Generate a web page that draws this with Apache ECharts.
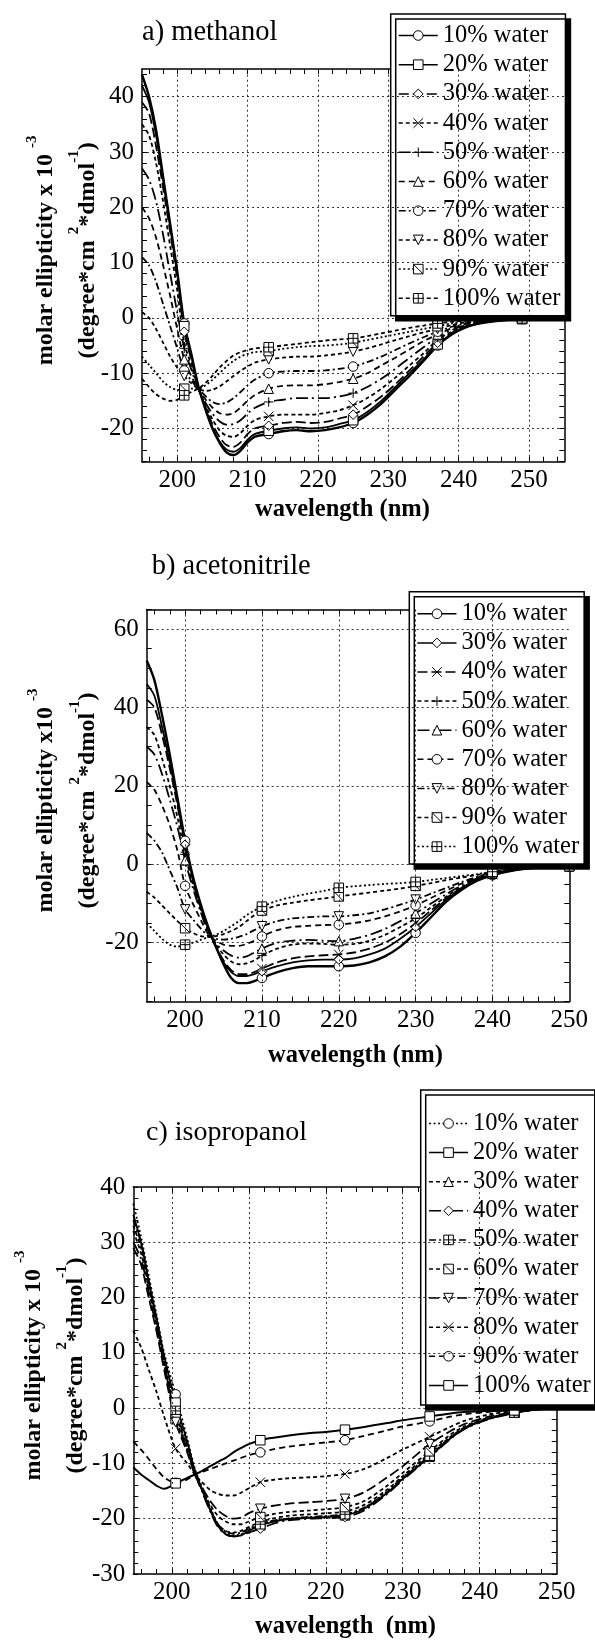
<!DOCTYPE html>
<html><head><meta charset="utf-8">
<script src="https://cdn.jsdelivr.net/npm/echarts@6/dist/echarts.min.js"></script>
<style>html,body{margin:0;padding:0;background:#fff}#c{width:595px;height:1640px}</style>
</head><body><div id="c"></div>
<script>
// ---------------- DATA ----------------
// Panel a) methanol
const A_NM = [195,196,197,198,199,200,201,202,203,204,205,206,207,208,209,210,211,213,215,217,219,221,223,225,227,229,231,233,235,237,239,241,243,245,249,255];
const A_W10 = [44,40,34,25.5,17,8.5,-1,-6.5,-12.3,-16.5,-20,-22.5,-24.3,-24.8,-24,-22.5,-21.5,-21,-20.5,-20.3,-20.5,-20.3,-19.8,-19,-17.5,-15.5,-13,-10.5,-7.8,-5,-3,-1.7,-1,-0.6,-0.2,0];
const A_W20 = [42,39,33,25,16.5,8,-1.5,-6.8,-12.4,-16.3,-19.8,-22.3,-23.8,-24.2,-23.5,-22,-21,-20.4,-20,-19.8,-20,-19.8,-19.2,-18.5,-17,-15,-12.5,-10,-7.5,-4.8,-2.9,-1.6,-1,-0.6,-0.2,0];
const A_W30 = [39,37,31,23.5,15.5,7,-2.5,-7.5,-12.6,-16,-19.2,-21.5,-23,-23.3,-22.5,-21,-20,-19.5,-19,-18.8,-19,-18.8,-18.2,-17.5,-16,-14.2,-12,-9.5,-7,-4.5,-2.7,-1.5,-0.9,-0.5,-0.2,0];
const A_W40 = [35,33,28,21,13,5,-4.5,-8.5,-12.7,-15.8,-18.3,-20.3,-21.3,-21.5,-20.8,-19.5,-18.5,-17.8,-17.5,-17.5,-17.5,-17.2,-16.7,-15.8,-14.5,-12.8,-10.8,-8.6,-6.4,-4,-2.5,-1.4,-0.8,-0.5,-0.2,0];
const A_W50 = [27,25,21,15,8,1,-5.5,-9.3,-12.8,-15.3,-17.3,-18.7,-19.3,-19.2,-18.5,-17.3,-16.3,-15.2,-14.8,-14.5,-14.5,-14.5,-14.2,-13.6,-12.5,-11,-9.2,-7.2,-5.3,-3.5,-2.2,-1.3,-0.8,-0.4,-0.2,0];
const A_W60 = [20,18,14.5,9.5,4,-2,-7.5,-10.5,-12.8,-14.7,-16.2,-17.2,-17.5,-17.2,-16.2,-15,-14,-12.8,-12.3,-12.2,-12.2,-12,-11.6,-11,-10,-8.6,-7.2,-5.7,-4.2,-3,-1.9,-1.1,-0.7,-0.4,-0.2,0];
const A_W70 = [11,9.5,6.5,2.5,-1.5,-5.5,-9.5,-11.3,-12.8,-14.1,-15.2,-15.6,-15.3,-14.5,-13.4,-12.2,-11.2,-10,-9.7,-9.6,-9.6,-9.5,-9.2,-8.8,-8,-7,-5.8,-4.6,-3.5,-2.5,-1.6,-1,-0.6,-0.3,-0.1,0];
const A_W80 = [1,0,-2,-4.5,-7,-9,-10.5,-11.8,-12.8,-13.2,-13,-12.4,-11.5,-10.5,-9.6,-8.8,-8.1,-7.5,-7.2,-7,-7,-6.8,-6.5,-6.1,-5.5,-4.8,-4,-3.3,-2.6,-2,-1.3,-0.8,-0.5,-0.3,-0.1,0];
const A_W90 = [-7,-8.5,-10,-11.5,-12.5,-13,-12.8,-12.8,-12.8,-12.2,-11.2,-10,-8.8,-7.8,-7,-6.5,-6.2,-6,-5.6,-5.3,-5.1,-5,-4.8,-4.5,-4,-3.5,-3,-2.5,-2,-1.5,-1,-0.7,-0.4,-0.3,-0.1,0];
const A_W100 = [-11,-12.5,-13.8,-14.6,-15,-14.8,-14,-13.4,-12.8,-11.8,-10.5,-9,-7.8,-6.8,-6.2,-5.8,-5.5,-5.3,-5,-4.7,-4.4,-4.1,-3.9,-3.7,-3.3,-2.8,-2.3,-1.8,-1.4,-1,-0.7,-0.5,-0.3,-0.2,-0.1,0];
const A_LABELS = ['10% water','20% water','30% water','40% water','50% water','60% water','70% water','80% water','90% water','100% water'];
const A_MARKS = [201,213,225,237,249];
const A_XTICKS = [200,210,220,230,240,250];
const A_YTICKS = [-20,-10,0,10,20,30,40];

// Panel b) acetonitrile
const B_NM = [195,196,197,198,199,200,201,202,203,204,205,206,207,208,209,210,212,214,216,218,220,222,224,226,228,230,232,234,236,238,240,243,246,250];
const B_W10 = [52,47,38,28,17,6,-3,-10,-16,-21,-25.5,-29,-30.3,-30.3,-29.8,-29,-27.5,-26.5,-26,-26,-26,-25.8,-25,-23.5,-21,-17.5,-13.5,-9.5,-6.5,-4.2,-2.8,-1.5,-0.8,-0.5];
const B_W30 = [46,43,35,26,16,5,-3.5,-10.5,-16.5,-21,-25,-27.5,-28.5,-28.5,-28,-27.3,-26,-25,-24.5,-24.3,-24.3,-24,-23,-21.5,-19,-16,-12.5,-9,-6.2,-4,-2.7,-1.4,-0.8,-0.5];
const B_W40 = [42,40,33,24.5,15,4,-4,-11,-16.8,-21,-24.5,-27,-28,-28,-27.5,-26.6,-25,-24,-23.5,-23.2,-23,-22.5,-21.5,-20,-17.8,-15,-11.8,-8.6,-6,-3.9,-2.6,-1.4,-0.8,-0.5];
const B_W50 = [35,33,27,20,12,2.5,-5,-11.5,-17,-20.5,-23,-24.8,-25.5,-25.3,-24.5,-23.3,-21.5,-20.5,-20.2,-20.3,-20.5,-20.3,-19.5,-18,-16,-13.8,-11,-8.2,-5.8,-3.8,-2.5,-1.4,-0.8,-0.5];
const B_W60 = [30,28,23,16.5,9.5,1,-6,-12,-17.3,-20.2,-22,-23.3,-23.8,-23.5,-22.5,-21.5,-20,-19.5,-19.3,-19.5,-19.6,-19,-18,-16.5,-14.5,-12.5,-10,-7.6,-5.4,-3.6,-2.4,-1.3,-0.8,-0.5];
const B_W70 = [21,19,15,10,3.5,-5.5,-10,-14,-17.8,-19.5,-20.5,-20.8,-20.8,-20.3,-19.5,-18.4,-16.8,-16,-15.7,-15.5,-15.4,-15,-14.3,-13.3,-12,-10.5,-8.6,-6.7,-4.9,-3.4,-2.3,-1.3,-0.8,-0.5];
const B_W80 = [8,6,3,-1.5,-6,-11.5,-14,-16.3,-18.2,-19,-19.2,-19,-18.5,-17.8,-16.8,-15.8,-14.5,-13.8,-13.5,-13.3,-13.3,-13,-12.5,-11.5,-10.3,-9,-7.5,-6,-4.5,-3.2,-2.2,-1.2,-0.8,-0.5];
const B_W90 = [-7,-8.5,-10.5,-12.5,-14.5,-16.3,-17.5,-18.3,-18.5,-18.3,-17.8,-17,-16,-14.5,-13,-11.8,-10.5,-9.8,-9.2,-8.7,-8.2,-7.7,-7.2,-6.7,-6.2,-5.5,-4.8,-4,-3.4,-2.7,-2,-1.2,-0.8,-0.5];
const B_W100 = [-15,-17,-19,-20.5,-21,-20.5,-20,-19.3,-18.6,-18,-17,-15.8,-14.5,-13,-11.8,-10.8,-9.3,-8.3,-7.5,-6.8,-6,-5.6,-5.3,-5,-4.8,-4.5,-4,-3.5,-3,-2.5,-1.9,-1.2,-0.8,-0.5];
const B_LABELS = ['10% water','30% water','40% water','50% water','60% water','70% water','80% water','90% water','100% water'];
const B_MARKS = [200,210,220,230,240,250];
const B_XTICKS = [200,210,220,230,240,250];
const B_YTICKS = [-20,0,20,40,60];

// Panel c) isopropanol
const C_NM = [195,196,197,198,199,200.5,202,203,204,205,206,207,208,209,210,211.5,213,215,218,220,222.5,225,228,230,233.5,236,238,241,244.5,247,250];
const C_W10 = [37,31,24,17,10,2.5,-5.5,-11,-14.5,-18,-21,-22.5,-23,-22.8,-22,-21,-20.5,-20,-19.7,-19.6,-19.3,-18,-15,-12.5,-8.5,-5.5,-3.6,-2,-0.8,-0.3,0];
const C_W20 = [35,30,23,16.5,9.5,1,-6,-11.3,-15,-18.5,-21.3,-22.8,-23.2,-23,-22.2,-21.2,-20.6,-20.1,-19.8,-19.7,-19.4,-18.2,-15.3,-12.8,-8.8,-5.7,-3.7,-2,-0.8,-0.3,0];
const C_W30 = [33,29,22,15.5,8.5,-1,-7,-11.6,-15,-18.3,-21,-22.2,-22.5,-22.2,-21.5,-20.6,-20,-19.5,-19.2,-19,-18.7,-17.5,-14.7,-12.3,-8.2,-5.4,-3.5,-1.9,-0.8,-0.3,0];
const C_W40 = [30,27,21,14.5,8,-1.5,-7.5,-11.8,-15.3,-18.7,-21.5,-22.8,-23.2,-23,-22.5,-21.8,-21,-20.3,-20,-19.9,-19.7,-18.5,-15.5,-13,-8.9,-5.8,-3.8,-2.1,-0.9,-0.3,0];
const C_W50 = [34,30,23,16,9,-0.5,-6.5,-11.5,-15,-18.3,-21,-22.3,-22.7,-22.5,-21.8,-21,-20.4,-20,-19.7,-19.5,-19.2,-18,-15.2,-12.7,-8.6,-5.6,-3.7,-2,-0.8,-0.3,0];
const C_W60 = [32,28,22,15,8,-2,-7.5,-12,-15,-17.5,-19.5,-20.5,-21,-21,-20.5,-19.7,-19.2,-18.8,-18.5,-18.3,-17.9,-16.8,-14,-11.7,-7.8,-5,-3.3,-1.8,-0.8,-0.3,0];
const C_W70 = [29,26,20,14,7,-2.5,-8,-12,-14.5,-16.8,-18.5,-19.5,-20,-19.8,-19,-18.2,-17.7,-17.3,-17,-16.8,-16.4,-15.2,-12.5,-10.5,-6.5,-4.3,-2.9,-1.6,-0.7,-0.3,0];
const C_W80 = [14,11,7,3,-1.5,-7.3,-10,-12,-13.5,-14.8,-15.5,-15.8,-15.8,-15.3,-14.5,-13.4,-13,-12.7,-12.5,-12.3,-11.9,-11,-9,-7.5,-5.2,-3.5,-2.3,-1.2,-0.5,-0.2,0];
const C_W90 = [-6,-7.5,-9.2,-11,-12.5,-13.5,-12.9,-12,-11.5,-11,-10.5,-10,-9.5,-9,-8.5,-8,-7.5,-7,-6.5,-6.2,-5.8,-5,-4,-3.3,-2.4,-1.6,-1.1,-0.7,-0.4,-0.2,0];
const C_W100 = [-10.7,-12,-13,-14,-14.6,-13.6,-12.6,-12,-11.3,-10.5,-9.7,-9,-8,-7.2,-6.5,-5.8,-5.4,-5,-4.5,-4.3,-3.9,-3.4,-2.7,-2.2,-1.5,-1,-0.7,-0.5,-0.4,-0.2,0];
const C_LABELS = ['10% water','20% water','30% water','40% water','50% water','60% water','70% water','80% water','90% water','100% water'];
const C_MARKS = [200.5,211.5,222.5,233.5,244.5];
const C_XTICKS = [200,210,220,230,240,250];
const C_YTICKS = [-30,-20,-10,0,10,20,30,40];

// ---------------- STYLE ----------------
const FONT = 'Liberation Serif';
const SYM = {
  circle: 'circle', square: 'rect', diamond: 'diamond', tri: 'triangle',
  itri: 'path://M0,0L10,0L5,9Z',
  cross: 'path://M0,0L10,10M10,0L0,10',
  plus: 'path://M5,0L5,10M0,5L10,5',
  sqdiag: 'path://M0,0L10,0L10,10L0,10ZM0,0L10,10',
  sqplus: 'path://M0,0L10,0L10,10L0,10ZM5,0L5,10M0,5L10,5'
};
const D = {
  solid: 'solid', dash: [4,3], dash2: [6,4], longdash: [10,4],
  dashdot: [7,3,2,3], ldashdot: [12,4,2,4], dot: [2,2.5]
};
function range(a, b, s) { const r = []; for (let v = a; v <= b + 1e-9; v += s) r.push(+v.toFixed(3)); return r; }

const NAME_RICH = {
  t: {fontFamily: FONT, fontSize: 24, fontWeight: 'bold', color: '#000', lineHeight: 42},
  s: {fontFamily: FONT, fontSize: 15, fontWeight: 'bold', color: '#000', lineHeight: 15, verticalAlign: 'top'}
};
function yName(l1) {
  return '{t|' + l1 + ' }{s|-3}\n{t|(degree*cm }{s|2}{t|*dmol}{s|-1}{t|)}';
}

const PANELS = [
  {
    key: 'a', nm: A_NM, ys: [A_W10,A_W20,A_W30,A_W40,A_W50,A_W60,A_W70,A_W80,A_W90,A_W100],
    labels: A_LABELS, marks: A_MARKS, xMajor: A_XTICKS, yMajor: A_YTICKS,
    styles: [['circle','solid',2.4],['square','solid',1.8],['diamond','longdash',1.8],['cross','dash',1.8],['plus','ldashdot',1.8],
             ['tri','dash2',1.8],['circle','dashdot',1.8],['itri','dash',1.8],['sqdiag','dot',1.8],['sqplus','dash',1.8]],
    grid: {left: 142, top: 69, width: 422.3, height: 392.7},
    xr: [195,255], yr: [-26,45], xMinor: range(196,254,2), yMinor: range(-26,44,2),
    legend: {left: 390.7, top: 14, padding: [9,5,5,7.3], gap: 4.2},
    yname: yName('molar ellipticity x 10'), nameGap: 33, namePad: 30
  },
  {
    key: 'b', nm: B_NM, ys: [B_W10,B_W30,B_W40,B_W50,B_W60,B_W70,B_W80,B_W90,B_W100],
    labels: B_LABELS, marks: B_MARKS, xMajor: B_XTICKS, yMajor: B_YTICKS,
    styles: [['circle','solid',2.4],['diamond','solid',1.8],['cross','longdash',1.8],['plus','dash',1.8],['tri','ldashdot',1.8],
             ['circle','dash2',1.8],['itri','dashdot',1.8],['sqdiag','dash',1.8],['sqplus','dot',1.8]],
    grid: {left: 146.7, top: 609.5, width: 422.6, height: 392},
    xr: [195,250], yr: [-35,65], xMinor: range(196,248,2), yMinor: range(-35,65,5),
    legend: {left: 409.3, top: 591.7, padding: [9.6,5,5,7.4], gap: 4.1},
    yname: yName('molar ellipticity x10'), nameGap: 37.5, namePad: 10
  },
  {
    key: 'c', nm: C_NM, ys: [C_W10,C_W20,C_W30,C_W40,C_W50,C_W60,C_W70,C_W80,C_W90,C_W100],
    labels: C_LABELS, marks: C_MARKS, xMajor: C_XTICKS, yMajor: C_YTICKS,
    styles: [['circle','dot',1.8],['square','solid',1.8],['tri','dash',1.8],['diamond','ldashdot',1.8],['sqplus','dashdot',1.8],
             ['sqdiag','dash',1.8],['itri','longdash',1.8],['cross','dash',1.8],['circle','dash2',1.8],['square','solid',2]],
    grid: {left: 133.3, top: 1187, width: 423.4, height: 387},
    xr: [195,250], yr: [-30,40], xMinor: range(196,248,2), yMinor: range(-30,40,2),
    legend: {left: 420.7, top: 1090, padding: [21,4,7,7.6], gap: 4.1},
    yname: yName('molar ellipticity x 10'), nameGap: 37, namePad: 30
  }
];

const grids = [], xAxes = [], yAxes = [], series = [], legends = [];
const lineCol = {color: '#000', width: 1.5};
const labelStyle = {color: '#000', fontFamily: FONT, fontSize: 25};

PANELS.forEach((p, i) => {
  grids.push(Object.assign({containLabel: false}, p.grid));
  ['bottom','top'].forEach((pos, k) => {
    xAxes.push({
      gridIndex: i, type: 'value', min: p.xr[0], max: p.xr[1], position: pos,
      axisLine: {show: true, onZero: false, lineStyle: lineCol},
      axisTick: {show: true, inside: true, length: 5, customValues: p.xMinor, lineStyle: {color: '#000', width: 1}},
      axisLabel: k === 0 ? Object.assign({customValues: p.xMajor, margin: 6}, labelStyle) : {show: false},
      splitLine: {show: false}
    });
  });
  ['left','right'].forEach((pos, k) => {
    const ax = {
      gridIndex: i, type: 'value', min: p.yr[0], max: p.yr[1], position: pos,
      axisLine: {show: true, onZero: false, lineStyle: lineCol},
      axisTick: {show: true, inside: true, length: 5, customValues: p.yMinor, lineStyle: {color: '#000', width: 1}},
      axisLabel: k === 0 ? Object.assign({customValues: p.yMajor, margin: 8}, labelStyle) : {show: false},
      splitLine: {show: false}
    };
    if (k === 0) {
      ax.name = p.yname;
      ax.nameLocation = 'middle';
      ax.nameRotate = 90;
      ax.nameGap = p.nameGap;
      ax.nameMoveOverlap = false;
      ax.nameTextStyle = {rich: NAME_RICH, align: 'center', padding: [0, 0, 0, p.namePad]};
    }
    yAxes.push(ax);
  });
  // dotted grid lines at major ticks
  series.push({
    name: 'grid-' + p.key, type: 'line', xAxisIndex: 2 * i, yAxisIndex: 2 * i, data: [], silent: true, z: 1,
    animation: false,
    markLine: {
      silent: true, symbol: ['none','none'], label: {show: false}, animation: false,
      lineStyle: {color: '#000', width: 0.8, type: [2,3]},
      emphasis: {disabled: true},
      data: p.xMajor.filter(v => v > p.xr[0] && v < p.xr[1]).map(v => ({xAxis: v}))
        .concat(p.yMajor.filter(v => v > p.yr[0] && v < p.yr[1]).map(v => ({yAxis: v})))
    }
  });
  const names = [];
  p.ys.forEach((ys, j) => {
    const st = p.styles[j];
    const name = p.key + '|' + p.labels[j];
    names.push(name);
    series.push({
      name: name, type: 'line', xAxisIndex: 2 * i, yAxisIndex: 2 * i,
      data: p.nm.map((x, n) => [x, ys[n]]),
      smooth: 0.3, symbol: SYM[st[0]],
      symbolSize: (v) => (p.marks.indexOf(v[0]) >= 0 ? 9.5 : 0),
      showSymbol: true, z: 3, animation: false,
      lineStyle: {color: '#000', width: st[2], type: D[st[1]]},
      itemStyle: {color: '#fff', borderColor: '#000', borderWidth: 1},
      emphasis: {disabled: true}
    });
  });
  legends.push({
    orient: 'vertical', left: p.legend.left, top: p.legend.top, padding: p.legend.padding,
    itemWidth: 39, itemHeight: 12, itemGap: p.legend.gap,
    backgroundColor: '#fff', borderColor: '#000', borderWidth: 1.5,
    shadowColor: '#000', shadowBlur: 0, shadowOffsetX: 5, shadowOffsetY: 5,
    selectedMode: false, data: names,
    formatter: (n) => n.split('|')[1],
    textStyle: {fontFamily: FONT, fontSize: 24.5, color: '#000', lineHeight: 24},
    lineStyle: {width: 1.5}, itemStyle: {borderWidth: 1}
  });
});

// ---------------- TEXTS ----------------
function plain(x, y, txt, size, bold) {
  return {type: 'text', x: x, y: y, z: 10,
    style: {text: txt, fontFamily: FONT, fontSize: size, fontWeight: bold ? 'bold' : 'normal', fill: '#000',
      align: 'left', verticalAlign: 'middle'}};
}
const graphics = [
  plain(142, 33, 'a) methanol', 28.5, false),
  plain(151.7, 567, 'b) acetonitrile', 28.5, false),
  plain(146, 1133, 'c) isopropanol', 28, false),
  plain(255, 510, 'wavelength (nm)', 24.5, true),
  plain(268, 1056, 'wavelength (nm)', 24.5, true),
  plain(255, 1627, 'wavelength  (nm)', 24.5, true)
];

const chart = echarts.init(document.getElementById('c'), null, {renderer: 'canvas'});
chart.setOption({
  backgroundColor: '#fff', animation: false,
  grid: grids, xAxis: xAxes, yAxis: yAxes, series: series, legend: legends, graphic: graphics
});
</script></body></html>
